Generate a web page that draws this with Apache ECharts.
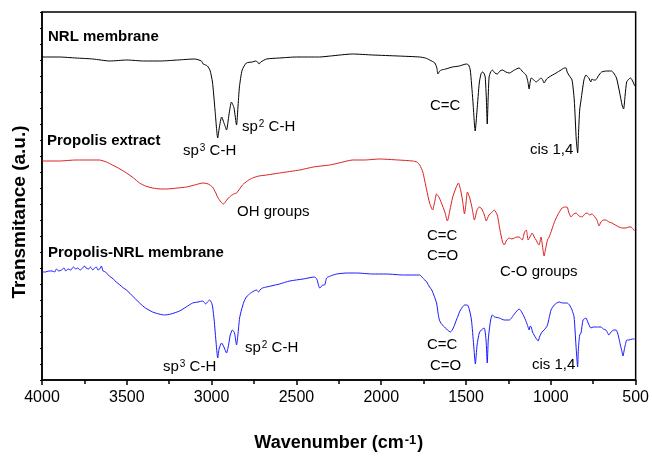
<!DOCTYPE html>
<html>
<head>
<meta charset="utf-8">
<script src="https://cdn.jsdelivr.net/npm/echarts@6/dist/echarts.min.js"></script>
<style>
  html, body { margin: 0; padding: 0; background: #fff; }
  #chart { width: 652px; height: 457px; }
</style>
</head>
<body>
<div id="chart"></div>
<script>
// ---------------- data (wavenumber cm-1 / transmittance a.u.) ----------------
var waveNRL = [4000,3900,3800,3700,3600,3500,3400,3300,3200,3100,3060,3050,3035,3025,3010,2995,2980,2964,2955,2941,2925,2912,2898,2883,2868,2853,2845,2836,2820,2795,2760,2740,2729,2720,2710,2676,2600,2500,2400,2363,2300,2168,2050,1900,1773,1740,1714,1684,1672,1666,1655,1645,1620,1580,1540,1498,1485,1475,1460,1446,1435,1422,1412,1404,1395,1387,1380,1375,1370,1364,1355,1345,1330,1316,1300,1286,1265,1245,1215,1187,1165,1146,1135,1128,1122,1116,1100,1087,1072,1058,1048,1040,1025,1010,990,969,940,920,910,904,890,875,862,850,842,836,830,822,805,793,782,776,764,758,748,737,720,701,670,642,630,613,595,580,571,562,553,540,530,515,506];
var transNRL = [323,323,322,321,319,320,319,319,320,321,319,316,315,314,310,298,270,242,252,263,256,250,265,278,272,255,272,293,310,317,318,319,318,316,318,321,322,323,323,323,324,326,325,324,323,322,320,317,312,306,309,310,311,313,314,316,315,310,280,249,270,297,306,308,307,303,280,256,280,303,308,310,307,306,309,310,308,307,310,312,308,305,298,291,298,302,300,298,300,302,300,297,301,303,305,307,310,312,312,308,304,300,280,240,227,250,270,280,300,305,303,302,298,301,300,300,304,308,309,309,307,302,288,275,271,285,298,301,302,298,294];

var waveExtract = [4000,3900,3800,3700,3662,3620,3585,3540,3502,3460,3425,3390,3348,3300,3266,3200,3148,3100,3052,3020,2995,2975,2965,2945,2930,2915,2895,2870,2853,2835,2818,2790,2759,2720,2676,2600,2481,2400,2304,2250,2168,2100,2010,1900,1815,1790,1773,1755,1732,1715,1697,1685,1674,1660,1645,1625,1610,1595,1580,1560,1545,1532,1521,1509,1500,1492,1480,1468,1460,1451,1435,1422,1412,1404,1392,1381,1365,1351,1334,1316,1300,1285,1275,1260,1245,1230,1216,1200,1187,1169,1155,1145,1138,1134,1120,1110,1098,1087,1075,1069,1058,1050,1040,1030,1020,1010,995,981,960,934,915,904,895,881,866,851,835,816,800,787,770,758,740,728,716,705,690,675,658,640,620,599,580,558,540,528,515,506];
var transExtract = [219,219,220,220,220,218,215,211,207,202,197,194,192,191,191,192,193,195,197,196,193,187,183,178,176,179,183,186,187,191,195,199,202,204,205,207,210,213,215,217,220,220,221,220,219,218,215,208,190,177,170,178,186,183,177,168,159,170,182,192,197,190,180,166,177,188,183,175,168,160,170,173,172,170,165,159,165,167,170,165,150,138,135,140,142,141,142,143,143,140,148,150,144,140,144,147,143,140,136,135,143,135,124,132,140,143,150,157,165,172,173,173,168,163,166,167,164,163,166,167,165,166,163,160,154,158,160,160,158,157,155,153,152,152,153,153,151,149];

var waveComposite = [4000,3980,3960,3940,3925,3915,3900,3885,3870,3860,3845,3830,3815,3800,3790,3775,3760,3750,3740,3725,3715,3700,3690,3680,3670,3660,3650,3640,3625,3610,3595,3580,3562,3540,3520,3502,3460,3425,3390,3348,3310,3278,3240,3189,3150,3112,3080,3052,3045,3035,3025,3011,3000,2994,2985,2975,2964,2955,2941,2925,2912,2900,2890,2877,2865,2853,2845,2835,2824,2810,2795,2770,2750,2735,2723,2715,2700,2676,2600,2540,2460,2393,2380,2370,2363,2355,2345,2334,2322,2300,2263,2200,2145,2050,1968,1870,1773,1755,1732,1715,1702,1690,1674,1665,1657,1645,1627,1610,1592,1575,1557,1545,1539,1525,1509,1492,1480,1468,1455,1445,1435,1422,1410,1393,1382,1375,1369,1363,1355,1345,1330,1304,1275,1245,1215,1187,1172,1157,1140,1128,1122,1116,1108,1099,1088,1075,1065,1052,1040,1022,1010,999,980,952,930,904,890,875,863,852,842,838,830,822,810,793,780,764,750,730,705,690,675,665,658,645,628,615,605,599,590,580,575,565,552,540,520,506];
var transComposite = [108,108,109,109,108,111,109,110,112,109,111,110,113,111,112,110,112,114,112,111,113,110,112,113,110,111,114,109,108,105,103,101,98,95,92,90,83,77,72,68,66,65,66,69,73,77,78,79,78,76,78,80,77,73,60,40,22,32,37,32,27,35,45,50,47,35,45,62,70,78,83,87,89,90,88,90,92,93,96,99,101,103,101,95,92,93,95,95,102,104,106,107,107,106,106,105,105,102,98,93,90,85,77,67,60,56,53,50,48,52,60,65,68,72,75,75,70,60,35,16,35,47,50,52,40,17,40,50,60,65,63,62,60,60,66,71,68,63,56,50,54,53,48,45,42,39,44,48,50,54,62,70,75,78,77,77,75,70,63,35,13,30,45,47,60,62,57,52,53,53,53,51,50,47,45,48,50,50,46,42,35,28,24,32,40,40,41,41];

var xTicks = [4000, 3500, 3000, 2500, 2000, 1500, 1000, 500];

function pairs(xs, ys) {
    return xs.map(function (x, i) { return [x, ys[i]]; });
}

var FONT = "'Liberation Sans', Arial, sans-serif";

var chart = echarts.init(document.getElementById('chart'), null, { renderer: 'canvas' });

// annotation text helper (superscripts via rich text)
function note(x, y, text, bold) {
    return {
        type: 'text', x: x, y: y, silent: true,
        style: {
            text: text,
            fill: '#000',
            font: (bold ? 'bold ' : '') + '15px ' + FONT,
            verticalAlign: 'middle',
            rich: {
                n: { fontSize: 15, fontFamily: FONT, fill: '#000' },
                s: { fontSize: 10, fontFamily: FONT, fill: '#000', verticalAlign: 'top', padding: [0, 0, 0, 1] }
            }
        }
    };
}

var option = {
    animation: false,
    backgroundColor: '#fff',
    grid: { left: 42, right: 16, top: 12, bottom: 77, show: true, borderColor: '#000', borderWidth: 1.5 },
    xAxis: [{
        type: 'value', inverse: true, min: 500, max: 4000, interval: 500,
        name: '{b|Wavenumber (cm}{sup|-1}{b|)}',
        nameLocation: 'middle', nameGap: 54,
        nameTextStyle: {
            rich: {
                b: { fontSize: 18, fontWeight: 'bold', fontFamily: FONT, color: '#000' },
                sup: { fontSize: 13, fontWeight: 'bold', fontFamily: FONT, color: '#000', verticalAlign: 'top', padding: [0, 1, 0, 1] }
            }
        },
        axisLine: { onZero: false, lineStyle: { color: '#000', width: 1.5 } },
        axisTick: { length: 5, lineStyle: { color: '#000', width: 1.5 } },
        minorTick: { show: true, splitNumber: 2, length: 4, lineStyle: { color: '#000', width: 1.5 } },
        axisLabel: {
            fontSize: 16, fontFamily: FONT, color: '#000', margin: 10,
            formatter: function (v) { return xTicks.indexOf(v) >= 0 ? String(v) : ''; }
        },
        splitLine: { show: false }
    }],
    yAxis: [{
        type: 'value', min: 0, max: 368, interval: 16,
        name: 'Transmitance (a.u.)', nameLocation: 'middle', nameGap: 13,
        nameTextStyle: { fontSize: 19, fontWeight: 'bold', fontFamily: FONT, color: '#000', padding: [0, 32, 0, 0] },
        axisLine: { show: true, lineStyle: { color: '#000', width: 1.5 } },
        axisTick: { show: true, length: 2, lineStyle: { color: '#000', width: 1 } },
        axisLabel: { show: false },
        splitLine: { show: false }
    }],
    series: [
        { name: 'NRL membrane', type: 'line', data: pairs(waveNRL, transNRL), showSymbol: false, smooth: 0.2,
          lineStyle: { color: '#000000', width: 1 }, itemStyle: { color: '#000000' } },
        { name: 'Propolis extract', type: 'line', data: pairs(waveExtract, transExtract), showSymbol: false, smooth: 0.2,
          lineStyle: { color: '#dc1f1f', width: 1 }, itemStyle: { color: '#dc1f1f' } },
        { name: 'Propolis-NRL membrane', type: 'line', data: pairs(waveComposite, transComposite), showSymbol: false, smooth: 0.2,
          lineStyle: { color: '#1a1aff', width: 1 }, itemStyle: { color: '#1a1aff' } }
    ],
    graphic: [
        note(48, 37, 'NRL membrane', true),
        note(47, 141, 'Propolis extract', true),
        note(48, 253, 'Propolis-NRL membrane', true),
        note(183, 151, '{n|sp}{s|3}{n| C-H}'),
        note(242, 127, '{n|sp}{s|2}{n| C-H}'),
        note(237, 212, 'OH groups'),
        note(430, 106, 'C=C'),
        note(530, 150, 'cis 1,4'),
        note(427, 236, 'C=C'),
        note(427, 256, 'C=O'),
        note(500, 272, 'C-O groups'),
        note(163, 367, '{n|sp}{s|3}{n| C-H}'),
        note(245, 348, '{n|sp}{s|2}{n| C-H}'),
        note(427, 345, 'C=C'),
        note(430, 366, 'C=O'),
        note(532, 365, 'cis 1,4')
    ]
};

chart.setOption(option);
</script>
</body>
</html>
